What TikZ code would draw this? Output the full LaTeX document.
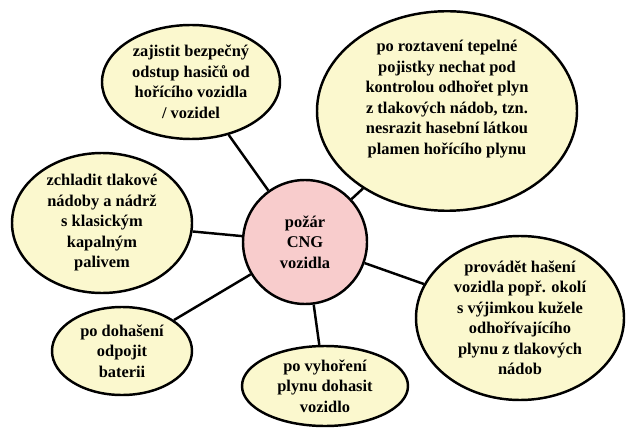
\documentclass[tikz,border=0pt]{standalone}
\usepackage{fontspec}
\setmainfont{Liberation Serif}
\usetikzlibrary{shapes.geometric, positioning}
\definecolor{ideafill}{HTML}{FBF8CE}
\definecolor{firefill}{HTML}{F8CCCC}

\begin{document}
\begin{tikzpicture}[
  x=0.03cm, y=-0.03cm,
  idea/.style={ellipse, draw=black, line width=2.1pt, fill=ideafill, inner sep=0pt, align=center,
    font=\fontsize{14}{17.5}\selectfont\bfseries},
  fire/.style={circle, draw=black, line width=2.1pt, fill=firefill, inner sep=0pt, align=center,
    minimum size=3.72cm, font=\fontsize{14}{17.5}\selectfont\bfseries},
  link/.style={line width=2.1pt, black}
]
\useasboundingbox (0,0) rectangle (626,428);

% Central node
\node[fire] (fire) at (305,242) {požár\\CNG\\vozidla};

% Surrounding measures
\node[idea, minimum width=5.34cm, minimum height=3.42cm] (retreat) at (191,82)
  {zajistit bezpečný\\odstup hasičů od\\hořícího vozidla\\/ vozidel};
\node[idea, minimum width=7.8cm, minimum height=5.94cm] (burnoff) at (447,111)
  {po roztavení tepelné\\pojistky nechat pod\\kontrolou odhořet plyn\\z tlakových nádob, tzn.\\nesrazit hasební látkou\\plamen hořícího plynu\\[0.2cm]};
\node[idea, minimum width=5.4cm, minimum height=4.2cm] (cool) at (102,223)
  {zchladit tlakové\\nádoby a nádrž\\s klasickým\\kapalným\\palivem};
\node[idea, minimum width=4.2cm, minimum height=2.64cm] (battery) at (122,351)
  {po dohašení\\odpojit\\baterii};
\node[idea, minimum width=4.98cm, minimum height=2.4cm] (finish) at (325,386)
  {po vyhoření\\plynu dohasit\\vozidlo};
\node[idea, minimum width=6.24cm, minimum height=4.92cm] (extinguish) at (520,318)
  {provádět hašení\\vozidla popř. okolí\\s výjimkou kužele\\odhořívajícího\\plynu z tlakových\\nádob};

% Connections
\foreach \target in {retreat, burnoff, cool, battery, finish, extinguish}
  \draw[link] (fire) -- (\target);

\end{tikzpicture}
\end{document}
